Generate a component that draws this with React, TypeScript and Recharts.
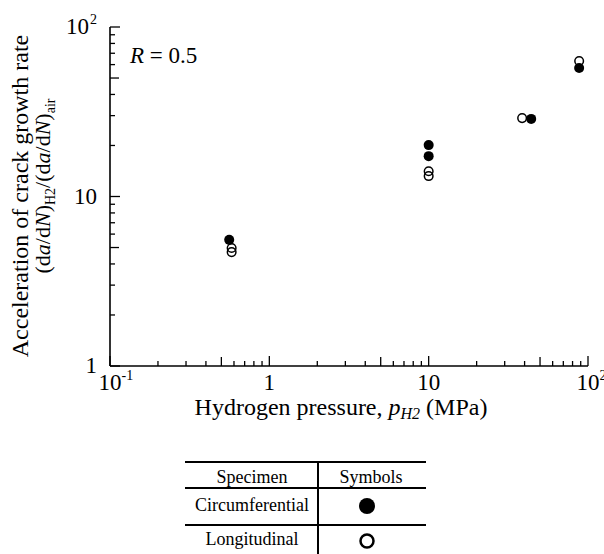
import React from 'react';
import { ScatterChart, Scatter, XAxis, YAxis } from 'recharts';

// Hydrogen pressure (MPa) and acceleration ratio
const circumferentialPressure = [0.56, 10, 10, 44, 88];
const circumferentialAccel = [5.55, 20.1, 17.3, 28.7, 57.3];
const longitudinalPressure = [0.58, 0.58, 10, 10, 38.6, 88];
const longitudinalAccel = [4.97, 4.7, 14.1, 13.2, 29.0, 63.0];

// Axis ticks
const xTickValues = [0.1, 0.2, 0.3, 0.4, 0.5, 0.6, 0.7, 0.8, 0.9, 1, 2, 3, 4, 5, 6, 7, 8, 9, 10, 20, 30, 40, 50, 60, 70, 80, 90, 100];
const yTickValues = [1, 2, 3, 4, 5, 6, 7, 8, 9, 10, 20, 30, 40, 50, 60, 70, 80, 90, 100];
const xMajorTicks = [0.1, 1, 10, 100];
const xMajorBase = ['10', '1', '10', '10'];
const xMajorExp = ['-1', '', '', '2'];
const yMajorTicks = [1, 10, 100];
const yMajorBase = ['1', '10', '10'];
const yMajorExp = ['', '', '2'];

// Legend table
const legendHeader = ['Specimen', 'Symbols'];
const legendRows = ['Circumferential', 'Longitudinal'];

const circData = circumferentialPressure.map((p, i) => ({ p, a: circumferentialAccel[i] }));
const longData = longitudinalPressure.map((p, i) => ({ p, a: longitudinalAccel[i] }));

const FONT = "'Liberation Serif', 'Times New Roman', Times, 'DejaVu Serif', serif";
const TS: React.CSSProperties = { fontFamily: FONT };

const isMajor = (v: number, list: number[]) => list.some((m) => Math.abs(m - v) < 1e-9);
const tickLen = (v: number, list: number[]) => {
  if (isMajor(v, list)) return 10;
  const lead = v / Math.pow(10, Math.floor(Math.log10(v) + 1e-9));
  if (Math.abs(lead - 5) < 1e-6) return 9;
  return 5;
};

const makeTick = (side: 'bottom' | 'top' | 'left' | 'right') => (props: any) => {
  const { x, y, payload } = props;
  const v = payload.value as number;
  const majors = side === 'bottom' || side === 'top' ? xMajorTicks : yMajorTicks;
  const len = tickLen(v, majors);
  let line: React.ReactNode = null;
  if (side === 'bottom') line = <line x1={x} y1={y} x2={x} y2={y - len} stroke="#000" strokeWidth={1.3} />;
  if (side === 'top') line = <line x1={x} y1={y} x2={x} y2={y + len} stroke="#000" strokeWidth={1.3} />;
  if (side === 'left') line = <line x1={x} y1={y} x2={x + len} y2={y} stroke="#000" strokeWidth={1.3} />;
  if (side === 'right') line = <line x1={x} y1={y} x2={x - len} y2={y} stroke="#000" strokeWidth={1.3} />;
  let label: React.ReactNode = null;
  if (side === 'bottom') {
    const idx = xMajorTicks.findIndex((m) => Math.abs(m - v) < 1e-9);
    if (idx >= 0) {
      const base = xMajorBase[idx];
      const exp = xMajorExp[idx];
      label = (
        <g>
          <text x={x} y={y + 24} textAnchor="middle" style={TS} fontSize={23} fill="#000">{base}</text>
          {exp && (
            <text x={x + base.length * 5.8} y={y + 14} textAnchor="start" style={TS} fontSize={14} fill="#000">{exp}</text>
          )}
        </g>
      );
    }
  }
  if (side === 'left') {
    const idx = yMajorTicks.findIndex((m) => Math.abs(m - v) < 1e-9);
    if (idx >= 0) {
      const base = yMajorBase[idx];
      const exp = yMajorExp[idx];
      const end = x - 13;
      label = (
        <g>
          <text x={exp ? end - 8 : end} y={y + 7} textAnchor="end" style={TS} fontSize={23} fill="#000">{base}</text>
          {exp && (
            <text x={end} y={y - 3} textAnchor="end" style={TS} fontSize={14} fill="#000">{exp}</text>
          )}
        </g>
      );
    }
  }
  return (
    <g>
      {line}
      {label}
    </g>
  );
};

const FilledDot = (props: any) => <circle cx={props.cx} cy={props.cy} r={5} fill="#000" />;
const OpenDot = (props: any) => <circle cx={props.cx} cy={props.cy} r={4.3} fill="none" stroke="#000" strokeWidth={1.5} />;

export default function App() {
  return (
    <div style={{ position: 'absolute', left: 0, top: 0, width: 604, height: 554, background: '#fff', fontFamily: FONT }}>
      <ScatterChart width={604} height={554} margin={{ top: 27, right: 16, bottom: 128, left: 50 }}>
        <XAxis
          xAxisId="b"
          dataKey="p"
          type="number"
          scale="log"
          domain={[0.1, 100]}
          allowDataOverflow
          ticks={xTickValues}
          interval={0}
          orientation="bottom"
          height={60}
          tickSize={0}
          tickMargin={0}
          tickLine={false}
          axisLine={{ stroke: '#000', strokeWidth: 1.6 }}
          tick={makeTick('bottom')}
        />
        <XAxis
          xAxisId="t"
          dataKey="p"
          type="number"
          scale="log"
          domain={[0.1, 100]}
          allowDataOverflow
          ticks={xTickValues}
          interval={0}
          orientation="top"
          height={0}
          tickSize={0}
          tickMargin={0}
          tickLine={false}
          axisLine={{ stroke: '#000', strokeWidth: 1.6 }}
          tick={makeTick('top')}
        />
        <YAxis
          yAxisId="l"
          dataKey="a"
          type="number"
          scale="log"
          domain={[1, 100]}
          allowDataOverflow
          ticks={yTickValues}
          interval={0}
          orientation="left"
          width={60}
          tickSize={0}
          tickMargin={0}
          tickLine={false}
          axisLine={{ stroke: '#000', strokeWidth: 1.6 }}
          tick={makeTick('left')}
        />
        <YAxis
          yAxisId="r"
          dataKey="a"
          type="number"
          scale="log"
          domain={[1, 100]}
          allowDataOverflow
          ticks={yTickValues}
          interval={0}
          orientation="right"
          width={0}
          tickSize={0}
          tickMargin={0}
          tickLine={false}
          axisLine={{ stroke: '#000', strokeWidth: 1.6 }}
          tick={makeTick('right')}
        />
        <Scatter name="Circumferential" data={circData} xAxisId="b" yAxisId="l" shape={FilledDot} isAnimationActive={false} />
        <Scatter name="Longitudinal" data={longData} xAxisId="b" yAxisId="l" shape={OpenDot} isAnimationActive={false} />
      </ScatterChart>
      <svg width={604} height={554} style={{ position: 'absolute', left: 0, top: 0, pointerEvents: 'none', fontFamily: FONT }}>
        <text x={130} y={63} style={TS} fontSize={23} fill="#000">
          <tspan fontStyle="italic">R</tspan>
          <tspan> = 0.5</tspan>
        </text>
        <text transform="translate(28,196) rotate(-90)" textAnchor="middle" style={TS} fontSize={24} fill="#000">
          Acceleration of crack growth rate
        </text>
        <text transform="translate(50,186) rotate(-90)" textAnchor="middle" style={TS} fontSize={22} fill="#000">
          <tspan>(d</tspan>
          <tspan fontStyle="italic">a</tspan>
          <tspan>/d</tspan>
          <tspan fontStyle="italic">N</tspan>
          <tspan>)</tspan>
          <tspan fontSize={14} dy={5}>H2</tspan>
          <tspan dy={-5}>/(d</tspan>
          <tspan fontStyle="italic">a</tspan>
          <tspan>/d</tspan>
          <tspan fontStyle="italic">N</tspan>
          <tspan>)</tspan>
          <tspan fontSize={14} dy={5}>air</tspan>
        </text>
        <text x={341} y={415} textAnchor="middle" style={TS} fontSize={24} fill="#000">
          <tspan>Hydrogen pressure,  </tspan>
          <tspan fontStyle="italic">p</tspan>
          <tspan fontStyle="italic" fontSize={16} dy={4}>H2</tspan>
          <tspan dy={-4}> (MPa)</tspan>
        </text>
        <line x1={185} y1={462} x2={426} y2={462} stroke="#000" strokeWidth={2} />
        <line x1={185} y1={488} x2={426} y2={488} stroke="#000" strokeWidth={2} />
        <line x1={185} y1={525} x2={426} y2={525} stroke="#000" strokeWidth={2} />
        <line x1={318} y1={462} x2={318} y2={554} stroke="#000" strokeWidth={2} />
        <text x={252} y={483} textAnchor="middle" style={TS} fontSize={18} fill="#000">{legendHeader[0]}</text>
        <text x={371} y={483} textAnchor="middle" style={TS} fontSize={18} fill="#000">{legendHeader[1]}</text>
        <text x={252} y={511} textAnchor="middle" style={TS} fontSize={18} fill="#000">{legendRows[0]}</text>
        <text x={252} y={545} textAnchor="middle" style={TS} fontSize={18} fill="#000">{legendRows[1]}</text>
        <circle cx={367} cy={506} r={8} fill="#000" />
        <circle cx={367} cy={541} r={6.5} fill="none" stroke="#000" strokeWidth={2.5} />
      </svg>
    </div>
  );
}
